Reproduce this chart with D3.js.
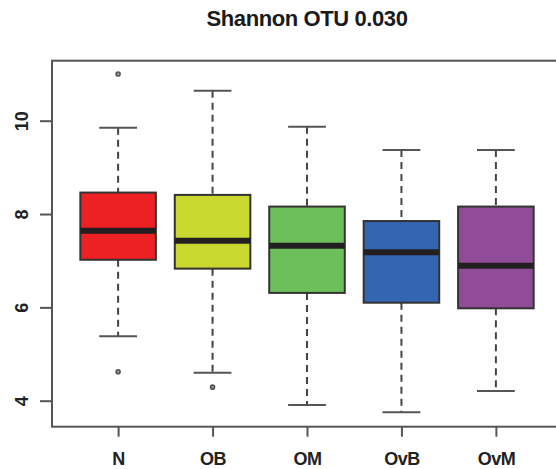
<!DOCTYPE html>
<html>
<head>
<meta charset="utf-8">
<script src="https://cdn.jsdelivr.net/npm/d3@7"></script>
<style>
  html, body { margin: 0; padding: 0; background: #fff; }
  svg { display: block; font-family: "Liberation Sans", Arial, sans-serif; }
</style>
</head>
<body>
<svg id="chart" width="556" height="469"></svg>
<script>
// Group labels and five-number summaries of Shannon diversity (OTU 0.030)
const groups     = ["N", "OB", "OM", "OvB", "OvM"];
const lowWhisker = [5.38, 4.60, 3.91, 3.75, 4.21];
const q1         = [7.02, 6.83, 6.31, 6.10, 5.98];
const medians    = [7.64, 7.43, 7.32, 7.18, 6.89];
const q3         = [8.46, 8.41, 8.16, 7.85, 8.16];
const highWhisker= [9.85, 10.64, 9.87, 9.37, 9.37];
const outliers   = [[11.0, 4.62], [4.29], [], [], []];
const fills      = ["#ed2024", "#c9d82f", "#6dbf5b", "#3465b0", "#914c99"];
const yTicks     = [4, 6, 8, 10];
const title      = "Shannon OTU 0.030";

const svg = d3.select("#chart");
const plotLeft = 52, plotRight = 562, plotTop = 60.7, plotBottom = 426.7;

const x = d3.scaleLinear().domain([0.3, groups.length + 0.7]).range([plotLeft, plotRight]);
const y = d3.scaleLinear().domain([4, 10]).range([400.7, 120.7]);

const boxHalf = 0.4, capHalf = 0.2;
const data = groups.map((g, i) => ({
  g, i: i + 1, lo: lowWhisker[i], q1: q1[i], med: medians[i], q3: q3[i],
  hi: highWhisker[i], out: outliers[i], fill: fills[i]
}));

// Title
svg.append("text")
  .attr("x", (plotLeft + plotRight) / 2).attr("y", 26)
  .attr("text-anchor", "middle")
  .attr("font-weight", "bold").attr("font-size", 22)
  .attr("letter-spacing", -0.4)
  .attr("fill", "#1a1a1a")
  .text(title);

const grp = svg.selectAll("g.box").data(data).join("g").attr("class", "box");

// Dashed whiskers
grp.append("line")
  .attr("x1", d => x(d.i)).attr("x2", d => x(d.i))
  .attr("y1", d => y(d.hi)).attr("y2", d => y(d.q3))
  .attr("stroke", "#444").attr("stroke-width", 2).attr("stroke-dasharray", "7,5");
grp.append("line")
  .attr("x1", d => x(d.i)).attr("x2", d => x(d.i))
  .attr("y1", d => y(d.q1)).attr("y2", d => y(d.lo))
  .attr("stroke", "#444").attr("stroke-width", 2).attr("stroke-dasharray", "7,5");

// Whisker caps
grp.selectAll("line.cap").data(d => [d.hi, d.lo].map(v => ({ v, i: d.i })))
  .join("line").attr("class", "cap")
  .attr("x1", c => x(c.i - capHalf)).attr("x2", c => x(c.i + capHalf))
  .attr("y1", c => y(c.v)).attr("y2", c => y(c.v))
  .attr("stroke", "#555").attr("stroke-width", 2);

// Boxes
grp.append("rect")
  .attr("x", d => x(d.i - boxHalf))
  .attr("width", d => x(d.i + boxHalf) - x(d.i - boxHalf))
  .attr("y", d => y(d.q3))
  .attr("height", d => y(d.q1) - y(d.q3))
  .attr("fill", d => d.fill)
  .attr("stroke", "#333").attr("stroke-width", 2);

// Medians
grp.append("line")
  .attr("x1", d => x(d.i - boxHalf)).attr("x2", d => x(d.i + boxHalf))
  .attr("y1", d => y(d.med)).attr("y2", d => y(d.med))
  .attr("stroke", "#231f20").attr("stroke-width", 6);

// Outliers
grp.selectAll("circle").data(d => d.out.map(v => ({ v, i: d.i })))
  .join("circle")
  .attr("cx", c => x(c.i)).attr("cy", c => y(c.v)).attr("r", 2)
  .attr("fill", "#999").attr("stroke", "#555").attr("stroke-width", 1.6);

// Plot frame
svg.append("rect")
  .attr("x", plotLeft).attr("y", plotTop)
  .attr("width", plotRight - plotLeft).attr("height", plotBottom - plotTop)
  .attr("fill", "none").attr("stroke", "#555").attr("stroke-width", 2);

// Y axis
const yAxis = svg.append("g").attr("transform", `translate(${plotLeft},0)`)
  .call(d3.axisLeft(y).tickValues(yTicks).tickSize(12).tickFormat(d3.format("d")));
yAxis.select(".domain").remove();
yAxis.selectAll(".tick line").attr("stroke", "#555").attr("stroke-width", 2);
yAxis.selectAll(".tick text")
  .attr("x", null).attr("dy", null)
  .attr("transform", "translate(-24,0) rotate(-90)")
  .attr("text-anchor", "middle")
  .attr("font-size", 18).attr("font-weight", "bold")
  .attr("font-family", "'Liberation Sans', Arial, sans-serif")
  .attr("fill", "#222");

// X axis
const xAxis = svg.append("g").attr("transform", `translate(0,${plotBottom})`)
  .call(d3.axisBottom(x).tickValues(d3.range(1, groups.length + 1))
    .tickSize(10).tickFormat(i => groups[i - 1]));
xAxis.select(".domain").remove();
xAxis.selectAll(".tick line").attr("stroke", "#555").attr("stroke-width", 2);
xAxis.selectAll(".tick text")
  .attr("y", 38).attr("dy", null)
  .attr("font-size", 18).attr("font-weight", "bold")
  .attr("letter-spacing", -0.5)
  .attr("font-family", "'Liberation Sans', Arial, sans-serif")
  .attr("fill", "#222");
</script>
</body>
</html>
